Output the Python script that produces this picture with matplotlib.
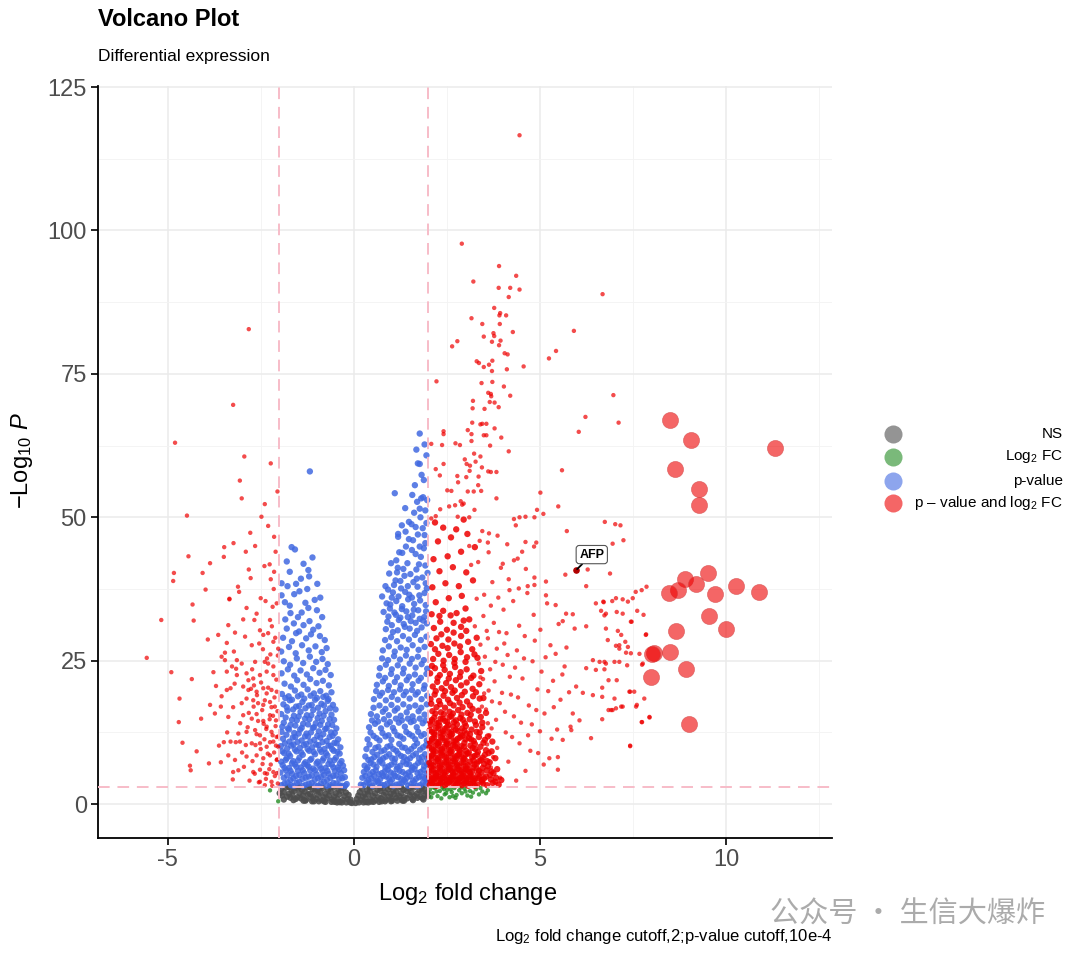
import numpy as np
import matplotlib.pyplot as plt
from matplotlib.lines import Line2D

plt.rcParams['font.family'] = ['Liberation Sans', 'DejaVu Sans']
plt.rcParams['mathtext.fontset'] = 'custom'
plt.rcParams['mathtext.rm'] = 'Liberation Sans'
plt.rcParams['mathtext.it'] = 'Liberation Sans:italic'
plt.rcParams['mathtext.bf'] = 'Liberation Sans:bold'
plt.rcParams['axes.unicode_minus'] = False

# ---- data (log2 fold change, -log10 p) ----
grey_x = [-1.95, -1.81, -1.67, -1.53, -1.39, -1.25, -1.11, -0.97, -0.83, -0.69, -0.55, -0.41, -0.27,
          0.22, 0.36, 0.50, 0.64, 0.78, 0.92, 1.06, 1.20, 1.34, 1.48, 1.62, 1.76, 1.90,
          -1.88, -1.74, -1.60, -1.46, -1.32, -1.18, -1.04, -0.90, -0.76, -0.62, -0.48, -0.34, -0.21,
          0.16, 0.29, 0.43, 0.57, 0.71, 0.85, 0.99, 1.13, 1.27, 1.41, 1.55, 1.69, 1.83, 1.97,
          -1.93, -1.79, -1.65, -1.51, -1.37, -1.23, -1.09, -0.95, -0.81, -0.67, -0.53, -0.39, -0.25, -0.14,
          0.12, 0.24, 0.38, 0.52, 0.66, 0.80, 0.94, 1.08, 1.22, 1.36, 1.50, 1.64, 1.78, 1.92,
          -1.70, -1.56, -1.42, -1.28, -1.14, -1.00, -0.86, -0.72, -0.58, -0.44, -0.30, -0.17, -0.09,
          0.08, 0.19, 0.31, 0.45, 0.59, 0.73, 0.87, 1.01, 1.15, 1.29, 1.43, 1.57, 1.71, 1.85,
          -1.30, -1.12, -0.94, -0.76, -0.60, -0.45, -0.32, -0.20, -0.10, -0.05,
          0.05, 0.14, 0.26, 0.39, 0.53, 0.68, 0.84, 1.00, 1.17, 1.35,
          -1.74, -1.46, -1.18, -0.90, -0.62, -0.34, 0.43, 0.71, 0.99, 1.27, 1.55, 1.83, -1.99, 1.99,
          -1.88, -1.62, -1.35, -1.07, -0.80, -0.52, -0.38, 0.33, 0.47, 0.75, 1.03, 1.31, 1.59, 1.87]
grey_y = [2.6, 2.9, 2.4, 2.8, 2.5, 2.9, 2.6, 2.4, 2.8, 2.5, 2.9, 2.6, 2.8,
          2.7, 2.4, 2.9, 2.5, 2.8, 2.6, 2.4, 2.9, 2.5, 2.7, 2.9, 2.4, 2.6,
          2.1, 1.8, 2.3, 1.9, 2.2, 1.8, 2.3, 2.0, 1.8, 2.2, 1.9, 2.3, 2.0,
          2.1, 1.8, 2.2, 1.9, 2.3, 2.0, 1.8, 2.2, 1.9, 2.3, 2.0, 1.8, 2.2, 2.0,
          1.5, 1.3, 1.6, 1.2, 1.5, 1.7, 1.3, 1.6, 1.2, 1.5, 1.3, 1.7, 1.4, 1.6,
          1.5, 1.3, 1.7, 1.4, 1.2, 1.6, 1.3, 1.7, 1.4, 1.2, 1.6, 1.4, 1.3, 1.6,
          1.1, 0.9, 1.0, 0.8, 1.1, 0.9, 0.7, 1.0, 0.8, 0.9, 0.7, 0.9, 0.8,
          0.9, 0.7, 1.0, 0.8, 0.7, 1.0, 0.8, 0.9, 1.1, 0.8, 1.0, 0.9, 1.1, 1.0,
          0.6, 0.5, 0.5, 0.4, 0.4, 0.3, 0.3, 0.3, 0.3, 0.2,
          0.2, 0.3, 0.3, 0.3, 0.4, 0.4, 0.5, 0.5, 0.6, 0.6,
          3.0, 2.95, 3.0, 2.95, 3.0, 3.0, 3.0, 2.95, 3.0, 2.95, 3.0, 2.95, 1.9, 1.4,
          0.8, 0.7, 0.6, 0.5, 0.5, 0.4, 0.35, 0.35, 0.45, 0.5, 0.6, 0.6, 0.7, 0.8]

green_pts = [(2.05, 2.6), (2.12, 1.9), (2.18, 2.8), (2.25, 1.4), (2.31, 2.3), (2.38, 2.9), (2.44, 1.7),
             (2.51, 2.5), (2.57, 1.2), (2.63, 2.1), (2.70, 2.8), (2.76, 1.6), (2.83, 2.4), (2.90, 1.9),
             (2.97, 2.7), (3.05, 1.5), (3.12, 2.3), (3.20, 2.0), (3.28, 2.6), (3.36, 1.7), (3.45, 2.2),
             (3.55, 1.9), (2.08, 1.2), (2.22, 2.2), (2.35, 1.0), (2.48, 1.9), (2.60, 2.6), (2.73, 1.1),
             (2.87, 2.9), (3.00, 2.2), (3.15, 1.3), (3.40, 2.8), (3.60, 2.4), (2.15, 2.9), (2.42, 2.6),
             (2.66, 1.4), (2.02, 2.0), (-2.25, 2.4), (-2.03, 0.5)]

blue_left = [(-1.94, 3.3), (-1.78, 3.8), (-1.61, 3.2), (-1.47, 3.9), (-1.29, 3.4), (-1.13, 3.7), (-0.96, 3.2),
             (-0.80, 3.9), (-0.63, 3.3), (-0.47, 3.6), (-0.31, 3.2), (-0.19, 3.5),
             (-1.88, 4.6), (-1.70, 4.2), (-1.55, 4.9), (-1.38, 4.4), (-1.21, 4.8), (-1.05, 4.3), (-0.88, 4.7),
             (-0.72, 4.2), (-0.55, 4.9), (-0.39, 4.4), (-0.24, 4.7),
             (-1.97, 5.5), (-1.82, 5.9), (-1.66, 5.3), (-1.50, 5.8), (-1.33, 5.4), (-1.17, 5.9), (-1.00, 5.2),
             (-0.84, 5.7), (-0.68, 5.3), (-0.51, 5.8), (-0.35, 5.4), (-0.26, 5.9),
             (-1.91, 6.8), (-1.74, 6.3), (-1.58, 6.9), (-1.42, 6.4), (-1.25, 6.8), (-1.09, 6.2), (-0.92, 6.7),
             (-0.76, 6.3), (-0.59, 6.9), (-0.43, 6.4), (-0.29, 6.7),
             (-1.95, 7.4), (-1.80, 8.0), (-1.63, 7.5), (-1.46, 8.1), (-1.30, 7.3), (-1.14, 7.9), (-0.97, 7.4),
             (-0.81, 8.0), (-0.64, 7.6), (-0.48, 8.1), (-0.33, 7.5),
             (-1.87, 8.9), (-1.71, 8.4), (-1.54, 9.2), (-1.37, 8.6), (-1.20, 9.3), (-1.04, 8.7), (-0.87, 9.1),
             (-0.71, 8.5), (-0.54, 9.3), (-0.38, 8.8),
             (-1.96, 10.1), (-1.79, 9.7), (-1.62, 10.4), (-1.45, 9.8), (-1.28, 10.5), (-1.12, 9.9), (-0.95, 10.3),
             (-0.79, 9.6), (-0.62, 10.2), (-0.46, 10.6), (-0.36, 9.9),
             (-1.90, 11.4), (-1.73, 10.9), (-1.57, 11.7), (-1.40, 11.1), (-1.23, 11.8), (-1.06, 11.2), (-0.90, 11.6),
             (-0.73, 11.0), (-0.57, 11.9), (-0.42, 11.3),
             (-1.94, 12.6), (-1.77, 13.2), (-1.60, 12.4), (-1.44, 13.0), (-1.27, 12.3), (-1.10, 13.3), (-0.94, 12.7),
             (-0.77, 13.1), (-0.61, 12.5), (-0.47, 13.2),
             (-1.88, 14.2), (-1.70, 13.8), (-1.53, 14.6), (-1.36, 14.0), (-1.19, 14.8), (-1.02, 14.1), (-0.86, 14.5),
             (-0.69, 13.9), (-0.53, 14.7),
             (-1.95, 15.7), (-1.78, 16.3), (-1.61, 15.4), (-1.43, 16.1), (-1.26, 15.5), (-1.09, 16.4), (-0.92, 15.8),
             (-0.76, 16.2), (-0.60, 15.6), (-0.49, 16.5),
             (-1.89, 17.4), (-1.72, 18.1), (-1.55, 17.0), (-1.38, 17.8), (-1.21, 17.2), (-1.04, 18.2), (-0.87, 17.5),
             (-0.70, 18.0), (-0.56, 17.3),
             (-1.93, 19.2), (-1.75, 18.8), (-1.58, 19.8), (-1.41, 19.1), (-1.24, 20.0), (-1.07, 19.3), (-0.90, 19.7),
             (-0.74, 18.9), (-0.60, 19.5),
             (-1.86, 21.0), (-1.69, 20.5), (-1.52, 21.6), (-1.35, 20.8), (-1.17, 21.8), (-1.00, 21.1), (-0.83, 21.5),
             (-0.67, 20.7),
             (-1.94, 22.8), (-1.77, 23.5), (-1.60, 22.4), (-1.43, 23.3), (-1.26, 22.6), (-1.09, 23.7), (-0.92, 22.9),
             (-0.76, 23.4), (-0.62, 22.5),
             (-1.88, 24.9), (-1.71, 24.3), (-1.53, 25.4), (-1.36, 24.6), (-1.18, 25.7), (-1.01, 24.8), (-0.84, 25.3),
             (-0.70, 24.4),
             (-1.95, 26.6), (-1.74, 27.4), (-1.56, 26.3), (-1.39, 27.7), (-1.21, 26.8), (-1.03, 27.5), (-0.86, 26.5),
             (-0.73, 27.2),
             (-1.90, 29.0), (-1.66, 28.4), (-1.47, 30.1), (-1.28, 28.9), (-1.09, 30.4), (-0.91, 29.3), (-0.78, 28.6),
             (-1.84, 32.2), (-1.61, 31.5), (-1.40, 33.4), (-1.19, 31.9), (-0.99, 33.8), (-0.85, 32.6), (-1.72, 34.6),
             (-1.30, 35.1),
             (-1.94, 36.4), (-1.55, 38.4), (-0.98, 38.4), (-1.94, 38.5), (-1.72, 40.5), (-1.22, 40.8), (-1.20, 39.7),
             (-1.11, 43.0), (-1.67, 44.8), (-1.58, 44.4), (-1.18, 58.0), (-1.46, 37.1), (-0.90, 36.0), (-1.80, 42.3),
             (-1.35, 41.9),
             (-1.86, 3.6), (-1.69, 3.3), (-1.53, 3.7), (-1.37, 3.2), (-1.21, 3.6), (-1.04, 3.3), (-0.88, 3.6),
             (-0.72, 3.2), (-0.55, 3.7), (-0.39, 3.3), (-0.23, 3.2),
             (-1.79, 5.0), (-1.62, 4.5), (-1.46, 5.1), (-1.29, 4.6), (-1.13, 5.0), (-0.96, 4.5), (-0.80, 5.1),
             (-0.63, 4.6), (-0.47, 5.0), (-0.31, 4.5),
             (-1.86, 6.3), (-1.70, 5.8), (-1.54, 6.5), (-1.37, 5.9), (-1.21, 6.5), (-1.04, 5.9), (-0.88, 6.2),
             (-0.71, 5.8), (-0.55, 6.4), (-0.40, 6.0),
             (-1.83, 7.7), (-1.66, 7.1), (-1.50, 7.6), (-1.33, 7.0), (-1.17, 7.7), (-1.00, 7.1), (-0.84, 7.6),
             (-0.68, 7.0), (-0.52, 7.7), (-0.37, 7.1),
             (-1.92, 9.2), (-1.75, 8.8), (-1.58, 9.5), (-1.41, 9.0), (-1.24, 9.6), (-1.08, 9.1), (-0.91, 9.5),
             (-0.75, 8.9), (-0.58, 9.6), (-0.44, 9.1),
             (-1.85, 10.6), (-1.68, 10.2), (-1.51, 10.8), (-1.34, 10.3), (-1.17, 10.9), (-1.01, 10.4), (-0.84, 10.8),
             (-0.68, 10.2), (-0.52, 10.7),
             (-1.81, 12.1), (-1.64, 11.6), (-1.48, 12.3), (-1.31, 11.8), (-1.15, 12.5), (-0.98, 11.9), (-0.82, 12.2),
             (-0.65, 11.7), (-0.51, 12.4),
             (-1.92, 13.5), (-1.74, 13.0), (-1.57, 13.7), (-1.40, 13.3), (-1.23, 13.9), (-1.07, 13.4), (-0.90, 13.8),
             (-0.73, 13.2), (-0.58, 13.8),
             (-1.83, 15.1), (-1.66, 14.7), (-1.48, 15.3), (-1.31, 14.9), (-1.14, 15.5), (-0.97, 15.0), (-0.81, 15.4),
             (-0.65, 14.8),
             (-1.80, 16.9), (-1.63, 16.5), (-1.47, 17.1), (-1.30, 16.7), (-1.13, 17.3), (-0.96, 16.8), (-0.80, 17.2),
             (-0.64, 16.7),
             (-1.84, 18.5), (-1.66, 18.2), (-1.50, 18.8), (-1.33, 18.4), (-1.16, 18.9), (-0.99, 18.5), (-0.82, 18.7),
             (-0.68, 18.3),
             (-1.80, 30.6), (-1.55, 29.8), (-1.35, 31.2), (-1.15, 29.6), (-0.95, 31.0), (-1.70, 33.3), (-1.50, 32.6),
             (-1.22, 34.2), (-1.05, 35.6), (-1.85, 35.2), (-1.60, 36.6), (-1.25, 37.5), (-1.42, 39.3), (-1.78, 38.0)]

blue_right = [(0.19, 3.4), (0.34, 3.8), (0.50, 3.2), (0.66, 3.7), (0.82, 3.3), (0.98, 3.9), (1.14, 3.4), (1.30, 3.7),
              (1.46, 3.2), (1.62, 3.8), (1.78, 3.3), (1.94, 3.6),
              (0.26, 3.3), (0.42, 3.6), (0.58, 3.9), (0.74, 3.4), (0.90, 3.6), (1.06, 3.2), (1.22, 3.5), (1.38, 3.9),
              (1.54, 3.5), (1.70, 3.2), (1.86, 3.8),
              (0.23, 4.6), (0.39, 4.2), (0.55, 4.9), (0.71, 4.4), (0.87, 4.8), (1.03, 4.3), (1.19, 4.7), (1.35, 4.2),
              (1.51, 4.9), (1.67, 4.4), (1.83, 4.8), (1.97, 4.3),
              (0.31, 4.9), (0.47, 4.5), (0.63, 4.1), (0.79, 4.9), (0.95, 4.5), (1.11, 4.9), (1.27, 4.4), (1.43, 4.6),
              (1.59, 4.1), (1.75, 4.7), (1.91, 4.5),
              (0.27, 5.6), (0.43, 5.2), (0.59, 5.9), (0.75, 5.4), (0.91, 6.0), (1.07, 5.3), (1.23, 5.8), (1.39, 5.2),
              (1.55, 5.9), (1.71, 5.4), (1.87, 6.0),
              (0.35, 6.1), (0.51, 5.6), (0.67, 5.2), (0.83, 5.7), (0.99, 5.5), (1.15, 6.1), (1.31, 5.6), (1.47, 5.5),
              (1.63, 6.1), (1.79, 5.6), (1.95, 5.3),
              (0.29, 6.7), (0.45, 7.2), (0.61, 6.5), (0.77, 7.1), (0.93, 6.6), (1.09, 7.3), (1.25, 6.7), (1.41, 7.0),
              (1.57, 6.4), (1.73, 7.2), (1.89, 6.6),
              (0.37, 6.4), (0.53, 6.9), (0.69, 7.4), (0.85, 6.4), (1.01, 6.9), (1.17, 6.5), (1.33, 7.4), (1.49, 6.9),
              (1.65, 6.7), (1.81, 7.4), (1.96, 7.0),
              (0.31, 8.3), (0.47, 7.8), (0.63, 8.6), (0.79, 8.0), (0.95, 8.7), (1.11, 7.9), (1.27, 8.4), (1.43, 7.7),
              (1.59, 8.5), (1.75, 8.0), (1.91, 8.7),
              (0.39, 7.7), (0.55, 8.2), (0.71, 7.7), (0.87, 8.3), (1.03, 8.0), (1.19, 8.8), (1.35, 8.2), (1.51, 8.0),
              (1.67, 8.8), (1.83, 8.2), (1.97, 7.9),
              (0.34, 9.6), (0.50, 9.1), (0.66, 10.0), (0.82, 9.4), (0.98, 10.2), (1.14, 9.3), (1.30, 9.9), (1.46, 9.2),
              (1.62, 10.1), (1.78, 9.5), (1.94, 10.3),
              (0.42, 10.4), (0.58, 9.8), (0.74, 9.2), (0.90, 10.0), (1.06, 9.6), (1.22, 10.5), (1.38, 9.8), (1.54, 9.6),
              (1.70, 10.6), (1.86, 9.9),
              (0.37, 11.3), (0.53, 11.9), (0.69, 11.1), (0.85, 11.8), (1.01, 11.2), (1.17, 12.0), (1.33, 11.4),
              (1.49, 12.2), (1.65, 11.3), (1.81, 11.9), (1.96, 11.1),
              (0.45, 12.5), (0.61, 11.5), (0.77, 12.4), (0.93, 12.0), (1.09, 12.7), (1.25, 11.8), (1.41, 12.6),
              (1.57, 11.9), (1.73, 12.6), (1.89, 12.2),
              (0.41, 13.4), (0.57, 14.0), (0.73, 13.2), (0.89, 13.9), (1.05, 13.3), (1.21, 14.2), (1.37, 13.5),
              (1.53, 14.3), (1.69, 13.4), (1.85, 14.1),
              (0.49, 14.6), (0.65, 14.4), (0.81, 14.8), (0.97, 14.3), (1.13, 14.9), (1.29, 14.6), (1.45, 14.9),
              (1.61, 14.5), (1.77, 14.9), (1.93, 14.6),
              (0.46, 15.7), (0.62, 15.3), (0.78, 16.1), (0.94, 15.5), (1.10, 16.3), (1.26, 15.4), (1.42, 16.0),
              (1.58, 15.3), (1.74, 16.2), (1.90, 15.6),
              (0.53, 16.8), (0.69, 17.2), (0.85, 16.6), (1.01, 17.3), (1.17, 16.7), (1.33, 17.4), (1.49, 16.9),
              (1.65, 17.2), (1.81, 16.8), (1.96, 17.4),
              (0.54, 18.3), (0.70, 18.9), (0.86, 18.1), (1.02, 18.7), (1.18, 18.2), (1.34, 19.0), (1.50, 18.4),
              (1.66, 19.1), (1.82, 18.3), (1.97, 18.9),
              (0.60, 19.7), (0.76, 19.4), (0.92, 19.9), (1.08, 19.5), (1.24, 20.0), (1.40, 19.6), (1.56, 19.9),
              (1.72, 19.5), (1.88, 20.1),
              (0.62, 20.8), (0.78, 21.4), (0.94, 20.6), (1.10, 21.3), (1.26, 20.7), (1.42, 21.6), (1.58, 20.9),
              (1.74, 21.5), (1.90, 20.7),
              (0.68, 22.4), (0.84, 22.0), (1.00, 22.7), (1.16, 22.1), (1.32, 22.8), (1.48, 22.2), (1.64, 22.6),
              (1.80, 22.0), (1.95, 22.7),
              (0.70, 23.7), (0.86, 24.3), (1.02, 23.5), (1.18, 24.2), (1.34, 23.6), (1.50, 24.5), (1.66, 23.8),
              (1.82, 24.4), (1.97, 23.6),
              (0.76, 25.4), (0.92, 25.1), (1.08, 25.8), (1.24, 25.2), (1.40, 25.9), (1.56, 25.3), (1.72, 25.7),
              (1.88, 25.1),
              (0.78, 26.8), (0.94, 27.5), (1.10, 26.6), (1.26, 27.3), (1.42, 26.9), (1.58, 27.7), (1.74, 26.9),
              (1.90, 27.4),
              (0.84, 28.6), (1.00, 29.1), (1.16, 28.4), (1.32, 29.3), (1.48, 28.7), (1.64, 29.5), (1.80, 28.6),
              (1.95, 29.2),
              (0.86, 30.5), (1.02, 31.2), (1.18, 30.3), (1.34, 31.4), (1.50, 30.6), (1.66, 31.6), (1.82, 30.8),
              (1.96, 31.5),
              (0.93, 32.7), (1.09, 33.4), (1.25, 32.5), (1.41, 33.6), (1.57, 32.9), (1.73, 33.8), (1.89, 32.6),
              (0.98, 34.8), (1.14, 35.4), (1.30, 34.5), (1.46, 35.7), (1.62, 34.9), (1.78, 35.5), (1.93, 34.7),
              (1.05, 36.9), (1.27, 37.6), (1.49, 36.5), (1.71, 37.9), (1.90, 36.8), (1.12, 39.0), (1.36, 39.8),
              (1.60, 38.7), (1.84, 39.5), (1.18, 41.2), (1.44, 42.0), (1.68, 40.9), (1.92, 41.6), (1.14, 42.5),
              (1.30, 43.8), (1.56, 44.3), (1.80, 43.1), (1.77, 44.9), (1.59, 46.0), (1.19, 46.6), (1.39, 47.5),
              (1.19, 47.1), (1.90, 46.9), (1.79, 50.0), (1.77, 51.5), (1.81, 53.3), (1.57, 53.9), (1.10, 54.2),
              (1.72, 59.4), (1.68, 61.8), (1.77, 64.6), (1.77, 59.3), (1.86, 53.5), (1.48, 49.2), (1.66, 48.3),
              (1.95, 49.0), (1.88, 56.5),
              (0.90, 31.8), (1.05, 30.0), (1.21, 32.1), (1.37, 30.9), (1.53, 31.9), (1.70, 30.2), (1.86, 32.0),
              (0.97, 34.1), (1.13, 33.0), (1.29, 34.0), (1.45, 32.6), (1.61, 33.9), (1.77, 32.3), (1.94, 33.6),
              (1.02, 36.0), (1.20, 36.2), (1.38, 37.0), (1.56, 36.0), (1.76, 36.4), (1.96, 37.6),
              (1.08, 38.2), (1.25, 38.9), (1.45, 38.0), (1.69, 39.3), (1.93, 38.5),
              (1.16, 40.4), (1.33, 41.0), (1.52, 40.1), (1.75, 41.8), (1.98, 40.3),
              (1.22, 43.9), (1.40, 44.9), (1.66, 43.6), (1.88, 44.6), (1.48, 46.2), (1.72, 47.0), (1.92, 45.5),
              (1.29, 48.6), (1.55, 48.8), (1.85, 48.1), (1.62, 50.8), (1.92, 51.2), (1.38, 51.6), (1.70, 52.7),
              (1.97, 53.0), (1.64, 55.6), (1.82, 57.4), (1.95, 60.8), (1.90, 62.7),
              (0.80, 33.5), (0.76, 36.2), (0.85, 38.0), (0.95, 40.2), (0.88, 35.0), (1.00, 42.0), (0.92, 37.4)]

red_right = [(2.04, 3.4), (2.15, 3.9), (2.27, 3.3), (2.38, 3.8), (2.50, 3.5), (2.61, 4.1), (2.73, 3.3), (2.84, 3.9),
             (2.96, 3.6), (3.07, 3.2), (3.19, 3.8), (3.31, 3.4), (3.44, 3.9), (3.58, 3.3), (3.73, 3.7), (3.89, 3.4),
             (2.09, 4.5), (2.21, 4.9), (2.32, 4.4), (2.44, 5.1), (2.55, 4.6), (2.67, 5.0), (2.78, 4.3), (2.90, 4.8),
             (3.01, 4.5), (3.13, 5.0), (3.25, 4.4), (3.37, 4.8), (3.50, 4.5), (3.66, 5.1), (3.82, 4.6),
             (2.03, 5.6), (2.14, 6.1), (2.26, 5.5), (2.37, 6.2), (2.49, 5.7), (2.60, 6.3), (2.72, 5.6), (2.83, 6.0),
             (2.95, 5.4), (3.06, 6.1), (3.18, 5.7), (3.30, 6.2), (3.43, 5.5), (3.57, 5.9), (3.75, 5.4),
             (2.08, 6.9), (2.20, 7.4), (2.31, 6.7), (2.43, 7.3), (2.54, 6.8), (2.66, 7.5), (2.77, 6.9), (2.89, 7.2),
             (3.00, 6.6), (3.12, 7.4), (3.24, 6.9), (3.36, 7.5), (3.50, 7.0), (3.65, 7.3),
             (2.03, 8.2), (2.14, 8.8), (2.26, 8.0), (2.37, 8.6), (2.49, 8.1), (2.60, 8.9), (2.72, 8.3), (2.83, 8.7),
             (2.95, 8.0), (3.06, 8.8), (3.18, 8.2), (3.31, 8.6), (3.46, 8.1), (3.62, 8.9),
             (2.09, 9.6), (2.20, 10.2), (2.32, 9.4), (2.43, 10.0), (2.55, 9.5), (2.66, 10.3), (2.78, 9.7),
             (2.89, 10.1), (3.01, 9.3), (3.13, 10.2), (3.26, 9.6), (3.40, 10.0), (3.55, 9.4),
             (2.04, 11.0), (2.15, 11.6), (2.27, 10.8), (2.38, 11.5), (2.50, 10.9), (2.61, 11.8), (2.73, 11.1),
             (2.85, 11.6), (2.97, 10.7), (3.09, 11.5), (3.22, 11.0), (3.36, 11.7), (3.52, 11.2),
             (2.10, 12.6), (2.21, 13.3), (2.33, 12.4), (2.44, 13.1), (2.56, 12.5), (2.67, 13.5), (2.79, 12.8),
             (2.91, 13.2), (3.03, 12.3), (3.16, 13.0), (3.30, 12.6), (3.45, 13.4),
             (2.05, 14.4), (2.16, 15.1), (2.28, 14.2), (2.39, 14.9), (2.51, 14.3), (2.62, 15.3), (2.74, 14.6),
             (2.86, 15.0), (2.98, 14.1), (3.11, 14.8), (3.25, 14.4), (3.41, 15.2),
             (2.11, 16.2), (2.22, 16.9), (2.34, 16.0), (2.45, 16.8), (2.57, 16.1), (2.68, 17.2), (2.80, 16.4),
             (2.92, 16.9), (3.05, 15.9), (3.19, 16.6), (3.35, 16.3),
             (2.06, 18.3), (2.17, 19.1), (2.29, 18.0), (2.41, 18.9), (2.53, 18.2), (2.65, 19.4), (2.77, 18.5),
             (2.90, 19.0), (3.04, 17.9), (3.20, 18.8), (3.38, 18.4),
             (2.12, 20.5), (2.24, 21.3), (2.36, 20.2), (2.48, 21.1), (2.61, 20.4), (2.74, 21.6), (2.88, 20.7),
             (3.03, 21.2), (3.19, 20.1), (3.37, 20.9),
             (2.05, 22.8), (2.18, 23.7), (2.31, 22.5), (2.44, 23.4), (2.58, 22.7), (2.72, 23.9), (2.87, 23.0),
             (3.03, 23.5), (3.21, 22.4), (3.42, 23.2),
             (2.13, 25.3), (2.27, 26.2), (2.41, 25.0), (2.56, 26.0), (2.71, 25.3), (2.87, 26.5), (3.04, 25.6),
             (3.24, 26.1),
             (2.07, 27.9), (2.22, 28.9), (2.38, 27.6), (2.54, 28.7), (2.70, 28.0), (2.88, 29.3), (3.07, 28.3),
             (3.30, 29.0),
             (2.15, 30.7), (2.32, 31.8), (2.50, 30.4), (2.68, 31.6), (2.88, 30.9), (3.10, 32.2), (2.09, 33.1),
             (2.40, 33.7), (2.76, 33.3), (3.00, 34.1),
             (2.20, 35.2), (2.55, 35.9), (2.90, 36.3), (2.11, 37.8), (2.46, 38.5), (2.82, 38.0), (3.20, 39.0),
             (2.30, 40.6), (2.66, 41.3), (3.02, 40.4), (2.14, 42.7), (2.52, 43.2),
             (2.88, 44.0), (2.26, 45.8), (2.61, 46.5), (3.05, 47.1), (2.40, 48.2), (2.75, 47.9), (2.18, 49.1),
             (2.95, 49.6), (3.25, 44.8),
             (2.10, 3.6), (2.21, 3.2), (2.33, 3.7), (2.44, 3.3), (2.56, 3.8), (2.67, 3.5), (2.79, 3.7), (2.90, 3.3),
             (3.02, 3.9), (3.13, 3.5), (3.25, 3.2),
             (2.03, 4.8), (2.15, 4.3), (2.26, 4.9), (2.38, 4.5), (2.49, 4.2), (2.61, 4.7), (2.72, 4.9), (2.84, 4.4),
             (2.96, 4.9), (3.07, 4.3), (3.19, 4.7), (3.44, 4.2),
             (2.09, 5.9), (2.20, 5.4), (2.32, 6.0), (2.43, 5.5), (2.55, 6.1), (2.66, 5.5), (2.78, 6.2), (2.89, 5.7),
             (3.01, 6.0), (3.12, 5.5), (3.36, 5.8),
             (2.03, 7.2), (2.14, 6.7), (2.26, 7.5), (2.37, 6.9), (2.49, 7.4), (2.60, 6.8), (2.72, 7.4), (2.83, 6.6),
             (2.95, 7.3), (3.06, 6.8), (3.30, 7.1),
             (2.09, 8.5), (2.20, 8.1), (2.32, 8.9), (2.43, 8.3), (2.55, 8.8), (2.66, 8.0), (2.78, 8.5), (2.89, 8.2),
             (3.01, 8.7), (3.24, 8.4),
             (2.03, 9.9), (2.14, 9.4), (2.26, 10.2), (2.37, 9.6), (2.49, 10.4), (2.60, 9.5), (2.72, 10.1),
             (2.84, 9.4), (2.96, 10.0), (3.19, 9.8),
             (2.10, 11.4), (2.21, 10.9), (2.33, 11.7), (2.44, 11.1), (2.56, 11.8), (2.67, 10.9), (2.79, 11.4),
             (2.91, 11.9), (3.15, 11.3),
             (2.04, 12.9), (2.16, 12.4), (2.27, 13.2), (2.39, 12.7), (2.50, 13.4), (2.62, 12.6), (2.74, 13.0),
             (2.97, 12.8),
             (2.10, 14.7), (2.22, 14.1), (2.33, 14.9), (2.45, 14.5), (2.57, 15.2), (2.69, 14.3), (2.93, 14.7),
             (2.06, 4.1), (2.18, 4.6), (2.30, 4.1), (2.41, 4.7), (2.53, 4.1), (2.64, 4.5), (2.76, 4.1), (2.87, 4.6),
             (2.99, 4.1), (3.10, 4.7), (3.22, 4.1), (3.34, 4.5), (3.47, 3.6), (3.55, 4.8), (3.68, 4.3), (3.80, 3.9),
             (3.96, 4.2),
             (2.06, 6.5), (2.18, 5.2), (2.29, 6.4), (2.40, 5.2), (2.52, 6.5), (2.63, 5.8), (2.75, 6.6), (2.86, 5.3),
             (2.98, 6.2), (3.09, 5.7), (3.21, 6.4), (3.33, 5.2), (3.46, 6.3), (3.60, 6.6), (3.70, 5.7), (3.85, 6.1),
             (2.06, 7.9), (2.17, 9.2), (2.29, 7.8), (2.40, 9.1), (2.52, 7.7), (2.63, 9.2), (2.75, 7.9), (2.86, 9.1),
             (2.98, 7.8), (3.09, 9.0), (3.21, 7.6), (3.33, 9.1), (3.42, 7.7), (3.52, 8.6), (3.58, 7.5), (3.70, 9.2),
             (3.80, 8.0),
             (2.06, 10.6), (2.17, 12.1), (2.29, 10.6), (2.41, 12.2), (2.52, 10.5), (2.64, 12.2), (2.76, 10.6),
             (2.88, 12.1), (3.00, 11.3), (3.12, 12.2), (3.25, 10.5), (3.38, 12.5), (3.48, 10.7), (3.60, 11.8),
             (3.72, 10.9),
             (2.07, 13.8), (2.19, 15.8), (2.30, 13.7), (2.42, 15.7), (2.54, 13.8), (2.66, 15.8), (2.77, 13.9),
             (2.89, 15.6), (3.01, 13.6), (3.14, 15.6), (3.28, 13.8), (3.45, 14.2), (3.55, 15.9),
             (2.08, 17.5), (2.20, 19.7), (2.32, 17.4), (2.45, 19.7), (2.58, 17.6), (2.71, 19.8), (2.84, 17.7),
             (2.98, 19.6), (3.12, 17.2), (3.28, 19.5), (3.48, 18.5),
             (2.10, 24.1), (2.25, 22.0), (2.40, 24.2), (2.55, 21.9), (2.70, 24.6), (2.85, 22.2), (3.00, 24.8),
             (3.15, 22.0), (3.32, 25.5), (2.18, 27.0), (2.35, 29.6), (2.52, 27.2), (2.68, 29.9), (2.85, 27.5),
             (3.02, 30.2), (3.18, 27.0), (2.30, 32.8), (2.60, 32.9), (2.95, 32.0)]

red_right_sparse = [(3.55, 16.5), (3.62, 19.8), (3.70, 13.2), (3.78, 21.4), (3.85, 9.8), (3.92, 17.6), (4.00, 24.3),
                    (4.08, 12.5), (4.15, 7.4), (4.22, 19.1), (4.30, 15.3), (4.38, 26.8), (4.45, 10.6), (4.53, 21.9),
                    (4.61, 5.8), (4.70, 17.2), (4.78, 13.9), (4.86, 28.5), (4.95, 8.9), (5.04, 23.1), (5.12, 15.8),
                    (5.22, 19.7), (5.31, 11.4), (5.42, 26.2), (3.52, 25.7), (3.60, 28.9), (3.68, 6.4), (3.76, 31.6),
                    (3.84, 27.1), (3.93, 4.6), (4.02, 33.9), (4.10, 29.8), (4.19, 22.2), (4.28, 35.4), (4.36, 4.1),
                    (4.44, 31.1), (4.57, 25.4), (4.66, 36.8), (4.74, 9.3), (4.83, 33.0), (4.93, 20.0), (5.01, 30.4),
                    (5.10, 6.9), (5.19, 35.0), (5.28, 27.7), (5.37, 16.9), (5.50, 31.4), (5.60, 22.6), (5.71, 27.3),
                    (5.82, 13.5), (3.47, 21.8), (3.58, 10.4), (3.66, 23.5), (3.74, 8.2), (3.82, 14.7), (3.90, 30.0),
                    (3.98, 19.4), (4.06, 16.1), (4.13, 26.0), (4.25, 11.7), (4.33, 23.8), (4.41, 18.6), (4.49, 14.2),
                    (4.59, 29.3), (4.68, 12.0), (4.80, 24.9), (4.90, 16.4), (5.00, 12.7), (5.15, 25.6), (5.25, 8.0),
                    (5.35, 21.5), (5.46, 13.0), (5.55, 18.2), (5.66, 24.0), (5.78, 19.5), (3.50, 36.5), (3.72, 38.7),
                    (3.95, 41.2), (4.18, 37.3), (4.40, 42.8), (3.62, 43.9), (3.86, 46.8), (4.12, 45.3), (4.35, 48.6),
                    (4.62, 41.0), (4.84, 44.9), (3.34, 42.2), (3.45, 47.6), (3.10, 45.0), (3.30, 35.8), (3.15, 41.7),
                    (3.48, 32.8), (3.25, 31.0), (3.40, 27.8), (3.36, 24.5), (3.57, 30.2), (3.68, 34.6), (3.80, 24.8),
                    (4.04, 28.0), (3.88, 36.0), (3.44, 17.0), (3.50, 19.3), (3.40, 22.1), (3.60, 14.1), (3.64, 12.0),
                    (3.71, 17.9),
                    (4.45, 116.6), (2.90, 97.7), (3.90, 93.8), (4.36, 92.1), (3.21, 91.1), (3.89, 90.0), (4.20, 90.0),
                    (4.45, 89.7), (4.16, 88.4), (6.68, 88.9), (3.77, 86.5), (3.16, 84.7), (3.91, 85.2), (3.93, 85.6),
                    (4.09, 85.2), (3.45, 83.7), (3.92, 83.7), (3.75, 82.1), (3.77, 81.6), (4.27, 82.3), (3.49, 81.5),
                    (5.91, 82.5), (2.78, 80.7), (2.64, 79.8), (3.71, 80.6), (3.94, 80.8), (3.90, 80.0), (5.43, 79.0),
                    (5.24, 77.7), (4.05, 78.6), (4.13, 78.4), (3.30, 77.2), (3.36, 76.9), (3.49, 76.2), (3.63, 76.6),
                    (3.72, 77.3), (3.71, 75.5), (4.11, 75.8), (4.56, 76.3), (2.22, 73.7), (3.43, 73.4), (3.72, 73.6),
                    (4.03, 72.8), (3.61, 71.7), (3.68, 71.5), (3.69, 71.1), (4.20, 71.2), (3.20, 70.3), (3.65, 70.1),
                    (3.78, 70.0), (3.89, 69.2), (3.19, 69.0), (3.51, 68.9), (6.97, 71.3), (6.22, 67.5), (7.11, 66.5),
                    (6.04, 64.9), (3.18, 66.5), (3.40, 66.2), (3.45, 66.3), (3.56, 66.3), (3.49, 64.3), (3.56, 64.3),
                    (2.41, 65.0), (2.41, 64.5), (3.06, 65.2), (3.16, 64.5), (3.78, 65.5), (3.96, 63.9), (2.73, 62.9),
                    (2.85, 62.6), (3.16, 63.3), (3.66, 62.5), (2.08, 62.8), (2.37, 62.6), (4.16, 61.5), (3.23, 61.1),
                    (3.40, 60.6), (2.98, 60.1), (3.03, 59.3), (3.12, 59.0), (3.27, 59.7), (2.41, 59.3), (2.20, 58.4),
                    (3.44, 58.7), (3.11, 58.1), (3.61, 58.0), (3.68, 57.9), (3.83, 57.9), (5.59, 58.2), (2.78, 57.2),
                    (2.31, 57.3), (3.02, 57.0), (3.35, 57.1), (2.80, 56.1), (3.06, 54.5), (3.22, 54.5), (3.34, 55.6),
                    (3.42, 54.6), (2.51, 54.7), (2.62, 54.6), (3.83, 53.3), (5.01, 54.3), (2.87, 52.8), (2.91, 52.2),
                    (2.56, 51.9), (2.72, 52.1), (2.95, 52.4), (4.92, 51.3), (5.09, 50.6), (5.49, 51.9), (2.32, 51.4),
                    (3.24, 51.3), (2.08, 49.8), (2.20, 50.2), (2.79, 50.1), (3.10, 50.0), (4.45, 50.0), (4.85, 50.0),
                    (4.30, 49.7), (4.61, 50.1), (6.74, 49.2), (7.02, 48.8), (7.16, 48.6), (5.72, 47.6), (7.24, 46.0),
                    (6.95, 45.4), (4.61, 45.7), (4.90, 45.6), (3.63, 47.2), (3.38, 45.9), (3.60, 45.6), (4.52, 44.0),
                    (4.00, 41.9), (4.30, 42.5), (5.68, 40.0), (6.28, 40.9), (6.88, 40.2), (6.24, 38.0), (5.16, 38.8),
                    (4.85, 39.5), (4.85, 38.2), (4.67, 38.0), (4.16, 39.2), (4.43, 37.6), (5.16, 36.4), (5.42, 34.7),
                    (5.70, 33.2), (5.88, 33.1), (6.50, 35.0), (6.71, 35.2), (6.94, 35.4), (7.22, 35.7), (7.57, 37.0),
                    (7.73, 37.3), (7.86, 37.9), (5.61, 31.9), (5.93, 30.6), (6.24, 31.0), (6.64, 33.7), (6.77, 33.2),
                    (6.77, 30.6), (7.09, 30.2), (7.18, 29.5), (7.36, 27.4), (7.44, 31.8), (7.84, 29.5), (7.13, 27.7),
                    (7.31, 26.4), (7.67, 26.2), (7.74, 24.3), (6.42, 25.1), (6.60, 24.8), (6.77, 24.5), (7.00, 24.8),
                    (6.24, 23.7), (6.50, 23.4), (5.97, 20.5), (6.15, 19.4), (6.42, 19.0), (6.67, 18.7), (6.91, 16.4),
                    (7.04, 16.7), (7.22, 17.0), (7.40, 19.6), (7.58, 17.0), (7.94, 15.2), (7.74, 14.3), (7.42, 10.1),
                    (6.37, 11.5), (5.88, 15.8), (6.06, 14.6), (5.84, 12.9), (5.61, 11.2), (5.48, 8.2), (5.48, 6.0),
                    (6.70, 35.3), (7.04, 35.9), (7.36, 35.3), (7.49, 35.9), (6.73, 32.9), (7.06, 33.5), (7.22, 33.2),
                    (7.61, 33.7), (7.78, 33.0), (7.46, 31.8), (7.85, 29.6), (6.82, 28.6), (7.29, 28.3), (7.04, 27.6),
                    (7.13, 27.1), (6.73, 24.8), (7.13, 24.8), (7.34, 24.2), (7.44, 26.3), (7.76, 24.5), (6.73, 23.5),
                    (6.84, 21.6), (7.06, 21.6), (6.67, 20.3), (7.42, 19.6), (7.53, 19.6), (7.80, 18.4), (7.00, 18.4),
                    (7.60, 17.3), (7.18, 17.0), (6.84, 16.4), (6.95, 16.4), (6.67, 14.8), (7.73, 14.3), (7.94, 15.1),
                    (7.42, 10.2)]

red_left = [(-2.82, 82.8), (-3.24, 69.6), (-4.80, 63.0), (-2.94, 60.6), (-2.23, 59.4), (-3.06, 56.4), (-3.01, 53.3),
            (-2.39, 52.3), (-4.48, 50.3), (-2.48, 50.1), (-2.78, 47.3), (-2.14, 46.6), (-3.23, 45.5), (-3.48, 44.8),
            (-2.90, 44.0), (-4.44, 43.2), (-3.49, 43.1), (-3.86, 42.0), (-2.26, 41.8), (-4.83, 40.3), (-4.06, 40.3),
            (-2.82, 40.9), (-2.14, 40.5), (-4.85, 38.9), (-2.77, 39.4), (-2.23, 39.2), (-3.98, 37.4), (-3.11, 37.9),
            (-3.08, 37.0), (-3.34, 35.8),
            (-4.33, 34.8), (-5.17, 32.1), (-4.30, 32.0), (-3.34, 35.7), (-2.37, 35.4), (-2.18, 34.4), (-2.07, 35.0),
            (-2.88, 34.2), (-2.61, 33.2), (-2.97, 32.2), (-2.67, 32.1), (-2.25, 32.1), (-3.37, 31.2), (-3.64, 29.5),
            (-3.19, 29.9), (-2.92, 29.2), (-2.52, 30.3), (-2.43, 29.5), (-2.30, 29.8), (-3.41, 28.1), (-2.74, 27.7),
            (-2.54, 28.0), (-2.16, 28.3), (-2.03, 27.1), (-3.46, 26.4), (-3.22, 26.6), (-5.56, 25.5), (-3.46, 25.1),
            (-3.14, 25.1), (-3.01, 24.5), (-2.65, 24.8), (-2.39, 24.8), (-2.30, 24.5), (-3.27, 24.0), (-3.16, 23.6),
            (-4.90, 23.0), (-3.77, 23.0), (-3.41, 23.1), (-2.88, 22.8), (-2.83, 21.6), (-2.70, 21.9), (-2.52, 22.5),
            (-2.34, 23.1), (-2.16, 22.5), (-3.14, 22.5), (-3.41, 19.9), (-3.31, 20.2), (-3.55, 18.8), (-2.97, 20.5),
            (-2.83, 19.9), (-2.68, 20.7), (-2.61, 19.6), (-2.43, 20.2), (-2.34, 19.3), (-2.21, 19.9), (-2.07, 19.6),
            (-4.68, 18.4), (-3.86, 17.3), (-3.57, 17.0), (-3.24, 16.9), (-3.01, 17.6), (-2.88, 18.4), (-2.70, 18.1),
            (-2.57, 17.6), (-2.43, 17.3), (-2.25, 17.8), (-2.12, 17.0), (-3.73, 15.8), (-3.37, 15.2), (-4.70, 14.3),
            (-2.97, 15.5), (-2.74, 14.9), (-2.61, 15.7), (-2.43, 14.5), (-2.25, 15.5), (-2.09, 14.6), (-3.10, 12.3),
            (-2.88, 12.6), (-2.65, 12.9), (-2.52, 12.0), (-2.34, 13.5), (-2.21, 12.6), (-2.07, 11.7), (-4.22, 9.2),
            (-3.62, 10.2), (-3.49, 10.8), (-3.31, 10.9), (-3.17, 10.8), (-3.06, 10.9), (-2.90, 10.3), (-2.74, 10.6),
            (-2.52, 10.6), (-2.34, 10.0), (-2.16, 10.9), (-2.03, 10.0), (-3.37, 8.5), (-3.19, 7.7), (-2.88, 8.3),
            (-2.61, 8.5), (-2.43, 8.0), (-2.25, 8.5), (-2.07, 7.7), (-4.40, 6.7), (-3.89, 7.1), (-3.57, 7.3),
            (-3.24, 5.6), (-3.10, 5.9), (-2.70, 5.6), (-2.39, 5.4), (-2.16, 5.6), (-3.25, 4.3), (-2.52, 3.9),
            (-2.39, 3.3), (-2.21, 3.9), (-4.38, 5.9),
            (-2.04, 3.6), (-2.12, 4.9), (-2.19, 3.2), (-2.27, 6.1), (-2.36, 4.4), (-2.45, 7.0), (-2.55, 3.8),
            (-2.66, 5.3), (-2.80, 4.1), (-2.95, 6.5), (-2.06, 7.8), (-2.14, 9.0), (-2.23, 6.9), (-2.31, 8.8),
            (-2.40, 11.3), (-2.50, 9.6), (-2.61, 12.2), (-2.72, 7.5), (-2.85, 13.4), (-3.00, 9.0), (-2.03, 11.8),
            (-2.10, 13.6), (-2.18, 12.0), (-2.26, 14.8), (-2.35, 13.1), (-2.46, 16.4), (-2.57, 14.5), (-2.69, 17.0),
            (-2.82, 15.9), (-2.05, 16.2), (-2.13, 18.6), (-2.21, 16.9), (-2.30, 20.3), (-2.39, 18.1), (-2.49, 21.2),
            (-2.60, 19.0), (-2.73, 23.5), (-2.08, 21.7), (-2.16, 24.0), (-2.24, 26.1), (-2.33, 25.4), (-2.44, 27.0),
            (-2.04, 25.9), (-2.11, 29.0), (-2.20, 31.0), (-2.06, 5.4), (-2.09, 10.2), (-2.17, 15.4), (-2.25, 10.8),
            (-2.33, 5.3), (-2.42, 14.0), (-2.52, 6.0), (-2.64, 10.3), (-2.76, 20.1), (-3.05, 14.1), (-3.20, 21.0),
            (-3.40, 12.5), (-3.55, 25.7), (-3.70, 20.6), (-3.92, 28.7), (-4.10, 14.9), (-4.35, 21.8), (-4.60, 10.7),
            (-2.15, 37.5), (-2.40, 41.5), (-2.65, 45.0), (-2.10, 44.0), (-2.30, 48.5), (-2.05, 54.5), (-2.50, 35.9)]

# labelled genes drawn with large markers
big_x = [8.49, 9.05, 11.31, 8.63, 9.26, 9.27, 9.50, 8.89, 9.20, 10.26, 10.87, 9.69, 8.70, 8.47,
         9.54, 8.66, 9.99, 8.07, 8.49, 8.02, 8.92, 7.98, 9.00]
big_y = [66.9, 63.5, 62.0, 58.4, 55.0, 52.1, 40.3, 39.3, 38.4, 38.0, 36.9, 36.7, 37.4, 36.8,
         32.8, 30.2, 30.5, 26.4, 26.6, 26.2, 23.5, 22.2, 13.9]

afp_point = (5.97, 40.8)

legend_labels = ['NS', 'Log$_2$ FC', 'p-value', 'p \u2013 value and log$_2$ FC']
col_ns, col_fc, col_p, col_both = '#4D4D4D', '#228B22', '#4169E1', '#EE0000'
legend_colors = [col_ns, col_fc, col_p, col_both]

fc_cut = 2
p_cut = 3  # -log10(10e-4)


def split(points):
    a = np.array(points, dtype=float)
    return a[:, 0], a[:, 1]


fig = plt.figure(figsize=(10.8, 9.59), dpi=100)
ax = fig.add_axes([0.0907, 0.1262, 0.680, 0.7842])

dense = dict(s=21, edgecolors='none', zorder=3)
sparse = dict(s=10, edgecolors='none', zorder=3)
ax.scatter(grey_x, grey_y, color=col_ns, alpha=0.9, **dense)
gx, gy = split(green_pts)
ax.scatter(gx, gy, color=col_fc, alpha=0.8, **sparse)
for grp in (blue_left, blue_right):
    bx, by = split(grp)
    ax.scatter(bx, by, color=col_p, alpha=0.85, **dense)
rx, ry = split(red_right)
ax.scatter(rx, ry, color=col_both, alpha=0.85, **dense)
for grp in (red_right_sparse, red_left):
    rx, ry = split(grp)
    ax.scatter(rx, ry, color=col_both, alpha=0.7, **sparse)
ax.scatter(big_x, big_y, s=135, color=col_both, alpha=0.6, edgecolors='#D04040',
           linewidths=0.5, zorder=4)
ax.scatter([afp_point[0]], [afp_point[1]], s=14, color='#B00000', zorder=5)
ax.annotate('AFP', xy=afp_point, xytext=(afp_point[0] + 0.42, afp_point[1] + 2.7),
            fontsize=9, fontweight='bold', ha='center', va='center', zorder=6,
            bbox=dict(boxstyle='round,pad=0.25', fc='white', ec='#555555', lw=0.8),
            arrowprops=dict(arrowstyle='-', color='black', lw=1.3, shrinkA=0, shrinkB=1))

# cutoff lines
cut = dict(color='#F7BCC8', lw=1.4, ls=(0, (6, 4)), zorder=5)
ax.axvline(-fc_cut, **cut)
ax.axvline(fc_cut, **cut)
ax.axhline(p_cut, **cut)

ax.set_xlim(-6.87, 12.85)
ax.set_ylim(-5.9, 125.2)
ax.set_xticks([-5, 0, 5, 10])
ax.set_xticks([-2.5, 2.5, 7.5, 12.5], minor=True)
ax.set_yticks([0, 25, 50, 75, 100, 125])
ax.set_yticks([12.5, 37.5, 62.5, 87.5, 112.5], minor=True)
ax.grid(True, which='major', color='#EBEBEB', lw=1.1)
ax.grid(True, which='minor', color='#F3F3F3', lw=0.6)
ax.set_axisbelow(True)
for s in ['top', 'right']:
    ax.spines[s].set_visible(False)
for s in ['left', 'bottom']:
    ax.spines[s].set_linewidth(1.3)
ax.tick_params(which='major', length=5, width=1.2, color='black', labelcolor='#4D4D4D',
               labelsize=17, pad=3)
ax.tick_params(which='minor', length=0)

fig.text(0.0907, 0.980, 'Volcano Plot', fontsize=17, fontweight='bold', va='center')
fig.text(0.0907, 0.9416, 'Differential expression', fontsize=12.5, va='center')
fig.text(0.433, 0.068, 'Log$_2$ fold change', fontsize=17, ha='center', va='center')
fig.text(0.020, 0.520, '$-$Log$_{10}$ $P$', fontsize=17, ha='center', va='center', rotation=90)
fig.text(0.771, 0.023, 'Log$_2$ fold change cutoff,2;p-value cutoff,10e-4', fontsize=12,
         ha='right', va='center')
fig.text(0.968, 0.046, '公众号 · 生信大爆炸', fontsize=21, ha='right', va='center',
         color='#ABABAB', family=['Noto Sans CJK SC', 'DejaVu Sans'])

# legend on the right, labels right aligned
leg_y = [0.5474, 0.5235, 0.4984, 0.4755]
for lab, c, yy in zip(legend_labels, legend_colors, leg_y):
    fig.add_artist(Line2D([0.827], [yy], transform=fig.transFigure, marker='o', markersize=13,
                          color=c, alpha=0.6, markeredgewidth=0, linestyle='none'))
    fig.text(0.984, yy, lab, fontsize=11, ha='right', va='center')

fig.savefig('out.png', dpi=100)
